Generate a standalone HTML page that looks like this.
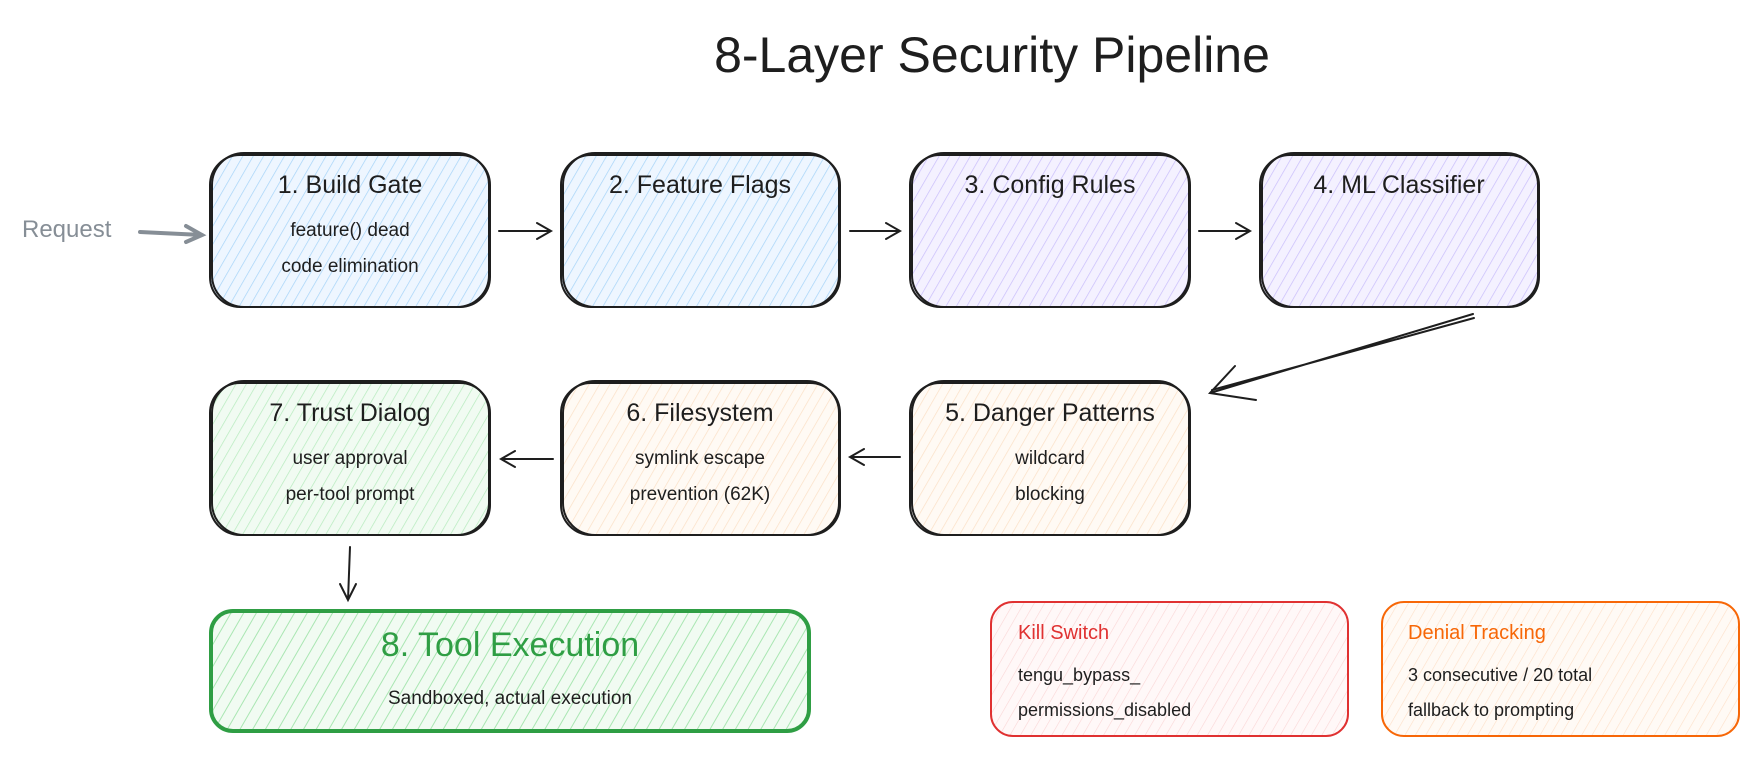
<!DOCTYPE html>
<html><head><meta charset="utf-8"><style>
html,body{margin:0;padding:0;background:#fff;}
svg{display:block;}
text{font-family:"Liberation Sans",sans-serif;}
</style></head><body>
<svg width="1760" height="760" viewBox="0 0 1760 760" xmlns="http://www.w3.org/2000/svg">
<defs>
<pattern id="pb" width="9" height="9" patternUnits="userSpaceOnUse" patternTransform="rotate(30)"><rect width="9" height="9" fill="#eef6ff"/><line x1="0" y1="0" x2="0" y2="9" stroke="#a5d3f8" stroke-width="1.4"/></pattern>
<pattern id="pp" width="9" height="9" patternUnits="userSpaceOnUse" patternTransform="rotate(30)"><rect width="9" height="9" fill="#f4f1ff"/><line x1="0" y1="0" x2="0" y2="9" stroke="#c9bdfb" stroke-width="1.4"/></pattern>
<pattern id="po" width="9" height="9" patternUnits="userSpaceOnUse" patternTransform="rotate(30)"><rect width="9" height="9" fill="#fffaf4"/><line x1="0" y1="0" x2="0" y2="9" stroke="#fbe0c6" stroke-width="1.4"/></pattern>
<pattern id="pg" width="9" height="9" patternUnits="userSpaceOnUse" patternTransform="rotate(30)"><rect width="9" height="9" fill="#f1fbf2"/><line x1="0" y1="0" x2="0" y2="9" stroke="#b5ebbd" stroke-width="1.4"/></pattern>
<pattern id="pg2" width="11" height="11" patternUnits="userSpaceOnUse" patternTransform="rotate(30)"><rect width="11" height="11" fill="#f1fbf2"/><line x1="0" y1="0" x2="0" y2="11" stroke="#a9e6b2" stroke-width="2"/></pattern>
<pattern id="pr" width="9" height="9" patternUnits="userSpaceOnUse" patternTransform="rotate(30)"><rect width="9" height="9" fill="#fff8f8"/><line x1="0" y1="0" x2="0" y2="9" stroke="#fad6d6" stroke-width="1.2"/></pattern>
<pattern id="pd" width="9" height="9" patternUnits="userSpaceOnUse" patternTransform="rotate(30)"><rect width="9" height="9" fill="#fffaf5"/><line x1="0" y1="0" x2="0" y2="9" stroke="#fde0c8" stroke-width="1.2"/></pattern>
</defs>
<text x="992" y="72" text-anchor="middle" font-size="50" fill="#1e1e1e">8-Layer Security Pipeline</text>

<g stroke="#1e1e1e" stroke-width="2" fill="none">
<rect x="210" y="155" width="280" height="152" rx="30" fill="url(#pb)"/>
<rect x="212" y="153" width="277" height="154" rx="32"/>
<rect x="561" y="155" width="279" height="152" rx="30" fill="url(#pb)"/>
<rect x="563" y="153" width="276" height="154" rx="32"/>
<rect x="910" y="155" width="280" height="152" rx="30" fill="url(#pp)"/>
<rect x="912" y="153" width="277" height="154" rx="32"/>
<rect x="1260" y="155" width="279" height="152" rx="30" fill="url(#pp)"/>
<rect x="1262" y="153" width="276" height="154" rx="32"/>
<rect x="210" y="383" width="280" height="152" rx="30" fill="url(#pg)"/>
<rect x="212" y="381" width="277" height="154" rx="32"/>
<rect x="561" y="383" width="279" height="152" rx="30" fill="url(#po)"/>
<rect x="563" y="381" width="276" height="154" rx="32"/>
<rect x="910" y="383" width="280" height="152" rx="30" fill="url(#po)"/>
<rect x="912" y="381" width="277" height="154" rx="32"/>
</g>
<rect x="211" y="611" width="598" height="120" rx="22" fill="url(#pg2)" stroke="#2f9e44" stroke-width="4"/>
<rect x="991" y="602" width="357" height="134" rx="22" fill="url(#pr)" stroke="#e03131" stroke-width="2"/>
<rect x="1382" y="602" width="357" height="134" rx="22" fill="url(#pd)" stroke="#f76707" stroke-width="2"/>

<g font-size="25" fill="#1e1e1e" text-anchor="middle">
<text x="350" y="193">1. Build Gate</text>
<text x="700" y="193">2. Feature Flags</text>
<text x="1050" y="193">3. Config Rules</text>
<text x="1399" y="193">4. ML Classifier</text>
<text x="350" y="421">7. Trust Dialog</text>
<text x="700" y="421">6. Filesystem</text>
<text x="1050" y="421">5. Danger Patterns</text>
</g>
<g font-size="19" fill="#1e1e1e" text-anchor="middle">
<text x="350" y="236">feature() dead</text>
<text x="350" y="272">code elimination</text>
<text x="350" y="464">user approval</text>
<text x="350" y="500">per-tool prompt</text>
<text x="700" y="464">symlink escape</text>
<text x="700" y="500">prevention (62K)</text>
<text x="1050" y="464">wildcard</text>
<text x="1050" y="500">blocking</text>
<text x="510" y="704">Sandboxed, actual execution</text>
</g>
<text x="510" y="656" text-anchor="middle" font-size="34" fill="#2f9e44">8. Tool Execution</text>
<text x="1018" y="639" font-size="20" fill="#e03131">Kill Switch</text>
<g font-size="18" fill="#1e1e1e"><text x="1018" y="681">tengu_bypass_</text><text x="1018" y="716">permissions_disabled</text>
<text x="1408" y="681">3 consecutive / 20 total</text><text x="1408" y="716">fallback to prompting</text></g>
<text x="1408" y="639" font-size="20" fill="#f76707">Denial Tracking</text>
<text x="22" y="237" font-size="24" fill="#868e96">Request</text>

<g stroke="#1e1e1e" stroke-width="2" fill="none" stroke-linecap="round">
<path d="M499 231 L551 231 M537 223 L551 231 L537 239"/>
<path d="M850 231 L900 231 M886 223 L900 231 L886 239"/>
<path d="M1199 231 L1250 231 M1236 223 L1250 231 L1236 239"/>
<path d="M1473 314 L1210 393 M1474 318 L1212 390 M1235 366 L1210 393 L1256 400"/>
<path d="M900 457 L850 457 M864 449 L850 457 L864 465"/>
<path d="M553 459 L501 459 M515 451 L501 459 L515 467"/>
<path d="M350 547 L348 600 M340 584 L348 600 L356 584"/>
</g>
<path d="M140 232 L202 235 M186 226 L202 235 L186 242" stroke="#868e96" stroke-width="4" fill="none" stroke-linecap="round"/>
</svg>
</body></html>
